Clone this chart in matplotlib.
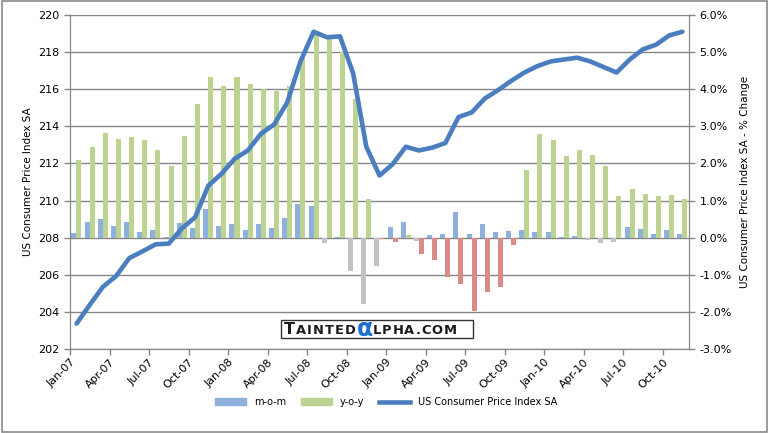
import numpy as np
import matplotlib
matplotlib.use("Agg")
import matplotlib.pyplot as plt
from matplotlib.lines import Line2D
from matplotlib.patches import Patch

# 월별 데이터 (Jan-07 ~ Nov-10), 그림에서 읽은 값
cpi = [203.37, 204.38, 205.35, 205.93, 206.9, 207.26, 207.64, 207.68, 208.5, 209.1,
       210.8, 211.44, 212.25, 212.7, 213.6, 214.1, 215.3, 217.5, 219.1, 218.8,
       218.85, 216.85, 212.9, 211.35, 211.96, 212.9, 212.7, 212.85, 213.1, 214.5,
       214.75, 215.5, 215.95, 216.45, 216.9, 217.25, 217.5, 217.6, 217.7, 217.5,
       217.2, 216.9, 217.6, 218.15, 218.4, 218.9, 219.1]
mom = [0.13, 0.43, 0.51, 0.32, 0.43, 0.16, 0.22, 0.03, 0.40, 0.27,
       0.78, 0.32, 0.38, 0.22, 0.38, 0.27, 0.54, 0.92, 0.84, -0.15,
       0.03, -0.91, -1.80, -0.75, 0.30, 0.43, -0.10, 0.08, 0.11, 0.70,
       0.11, 0.38, 0.16, 0.19, 0.22, 0.16, 0.16, 0.03, 0.05, -0.07,
       -0.15, -0.13, 0.30, 0.24, 0.11, 0.22, 0.11]
yoy = [2.08, 2.43, 2.81, 2.67, 2.70, 2.62, 2.35, 1.94, 2.75, 3.59,
       4.32, 4.10, 4.34, 4.13, 4.00, 3.96, 4.09, 4.88, 5.51, 5.37,
       4.99, 3.73, 1.03, -0.03, -0.13, 0.08, -0.43, -0.61, -1.05, -1.26,
       -1.97, -1.47, -1.34, -0.21, 1.83, 2.78, 2.64, 2.21, 2.37, 2.24,
       1.94, 1.11, 1.32, 1.19, 1.13, 1.16, 1.05]
tick_labels = ["Jan-07", "Apr-07", "Jul-07", "Oct-07", "Jan-08", "Apr-08", "Jul-08", "Oct-08",
               "Jan-09", "Apr-09", "Jul-09", "Oct-09", "Jan-10", "Apr-10", "Jul-10", "Oct-10"]

c_mom = "#8EB0DD"
c_mom_neg = "#C2C2C2"
c_yoy = "#BCD392"
c_yoy_neg = "#DB8A8A"
c_line = "#4A7EBF"
c_grid = "#868686"

W, H = 769, 433
fig = plt.figure(figsize=(W / 100, H / 100), dpi=100)
fig.patch.set_facecolor("white")
# 바깥 테두리
fig.add_artist(plt.Rectangle((0.002, 0.003), 0.996, 0.994, transform=fig.transFigure,
                             fill=False, edgecolor="#8a8a8a", linewidth=1.2))

ax = fig.add_axes([70 / W, (H - 349) / H, 619 / W, 334 / H])
ax2 = ax.twinx()

x = np.arange(len(cpi))
mom_arr = np.array(mom)
yoy_arr = np.array(yoy)

# 막대 (오른쪽 축)
ax2.bar(x - 0.2, mom_arr, width=0.38, color=[c_mom if v >= 0 else c_mom_neg for v in mom_arr], zorder=2)
ax2.bar(x + 0.18, yoy_arr, width=0.38, color=[c_yoy if v >= 0 else c_yoy_neg for v in yoy_arr], zorder=2)
ax2.set_ylim(-3, 6)
ax2.set_yticks(np.arange(-3, 7, 1))
ax2.set_yticklabels([f"{v:.1f}%" for v in np.arange(-3, 7, 1)])
ax2.yaxis.grid(True, color=c_grid, linewidth=1)
ax2.set_axisbelow(True)
ax2.set_ylabel("US Consumer Price Index SA - % Change", fontsize=7.5, labelpad=6)

# 선 (왼쪽 축), 막대 위에 그리기
ax.set_zorder(ax2.get_zorder() + 1)
ax.patch.set_visible(False)
ax.plot(x, cpi, color=c_line, linewidth=3.3, solid_capstyle="round", solid_joinstyle="round")
ax.set_ylim(202, 220)
ax.set_yticks(np.arange(202, 221, 2))
ax.set_ylabel("US Consumer Price Index SA", fontsize=7.5, labelpad=4)
ax.set_xlim(-0.5, len(cpi) - 0.5)
ax.set_xticks(np.arange(0, len(cpi), 3) - 0.5)
ax.set_xticklabels(tick_labels, rotation=45, ha="right", rotation_mode="anchor")

for a in (ax, ax2):
    for s in a.spines.values():
        s.set_color(c_grid)
    a.spines["top"].set_visible(False)
    a.tick_params(colors=c_grid, labelcolor="black", labelsize=8, length=4, width=1)
ax.tick_params(axis="x", pad=2)

# 로고 (글자 하나씩 배치)
fig.add_artist(plt.Rectangle((281 / W, 1 - 338 / H), (473 - 281) / W, 18 / H,
                             transform=fig.transFigure, facecolor="white",
                             edgecolor="#333333", linewidth=1, zorder=5))
renderer = fig.canvas.get_renderer()
base = 1 - 334.5 / H
xpix = 284
logo = [("T", 11.5, "#1a1a1a", 0)] + [(c, 9.4, "#1a1a1a", 0) for c in "AINTED"] + \
       [("α", 17, "#1E6FD0", -1.5)] + [(c, 9.4, "#1a1a1a", 0) for c in "LPHA.COM"]
for ch, size, col, dy in logo:
    t = fig.text(xpix / W, base + dy / H, ch, fontsize=size, fontweight="bold",
                 color=col, va="baseline", ha="left", zorder=6)
    xpix += t.get_window_extent(renderer).width + (1.0 if size < 12 else -0.5)

handles = [Patch(color=c_mom, label="m-o-m"),
           Patch(color=c_yoy, label="y-o-y"),
           Line2D([0], [0], color=c_line, linewidth=3.3, label="US Consumer Price Index SA")]
fig.legend(handles=handles, loc="center", bbox_to_anchor=(0.502, 1 - 402 / H), ncol=3,
           frameon=False, fontsize=7, handlelength=3.2, handleheight=0.6, columnspacing=1.5)

fig.savefig("out.png", dpi=100)
